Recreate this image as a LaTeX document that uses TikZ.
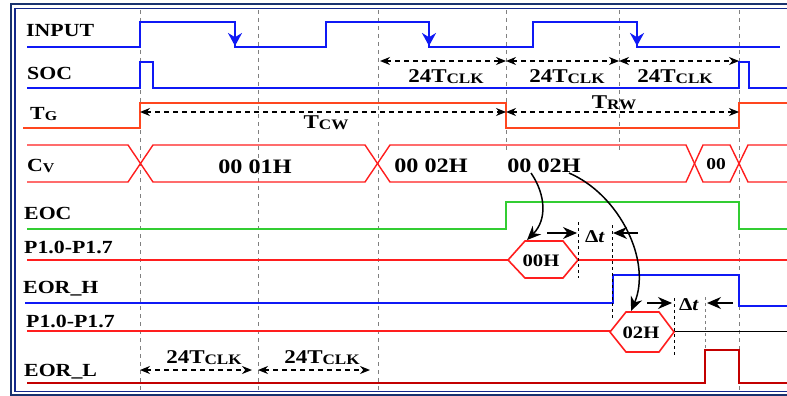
\documentclass[tikz,border=0pt]{standalone}
\usepackage{fontspec}
\setmainfont[FakeStretch=1.18]{Liberation Serif}
\usetikzlibrary{arrows.meta}
\definecolor{sigblue}{RGB}{15,25,245}
\definecolor{sigorange}{RGB}{255,70,30}
\definecolor{sigred}{RGB}{255,30,30}
\definecolor{siggreen}{RGB}{50,205,50}
\definecolor{sigdark}{RGB}{195,0,0}
\definecolor{framenavy}{RGB}{25,50,110}
\newcommand\lsub[2]{\raisebox{-0.2ex}{\fontsize{#1}{#1}\selectfont #2}}
\begin{document}
\begin{tikzpicture}[x=1pt,y=-1pt,
  lbl/.style={anchor=base west,inner sep=0pt,font=\bfseries\fontsize{18.5}{20}\selectfont},
  val/.style={anchor=base,inner sep=0pt,font=\bfseries\fontsize{20.5}{22}\selectfont},
  dimtxt/.style={anchor=base,inner sep=0pt,font=\bfseries\fontsize{19.5}{20}\selectfont},
  grid/.style={gray,line width=0.9pt,dash pattern=on 4pt off 4pt},
  dim/.style={black,line width=1.3pt,dash pattern=on 5pt off 4pt,{Stealth[length=10pt,width=8pt]}-{Stealth[length=10pt,width=8pt]}},
  bigarr/.style={black,line width=1.5pt,-{Stealth[length=14pt,width=12pt]}},
  hex/.style={sigred,line width=1.6pt,fill=white},
  dtline/.style={black,line width=1pt,dash pattern=on 3pt off 3pt},
]
\useasboundingbox (0,0) rectangle (787,396);
\fill[white] (0,0) rectangle (787,396);
% frame
\draw[framenavy,line width=2pt] (11,4.5) rectangle (830,395);
\draw[framenavy!80!blue,line width=1.4pt] (15,8.5) rectangle (830,391.5);

% grid lines
\foreach \gx in {140,258,378,739} \draw[grid] (\gx,10) -- (\gx,390);
\foreach \gx in {506,619} \draw[grid] (\gx,10) -- (\gx,150);

% labels
\node[lbl] (lin) at (26,37) {INPUT};
\node[lbl] (lsoc) at (27,80) {SOC};
\node[lbl] (ltg) at (30,119) {T\lsub{13.5}{G}};
\node[lbl] (lcv) at (27,171) {C\lsub{13.5}{V}};
\node[lbl] (leoc) at (24,219) {EOC};
\node[lbl] (lp1) at (24,253) {P1.0-P1.7};
\node[lbl] (leorh) at (23,293) {EOR\_H};
\node[lbl] (lp2) at (26,327) {P1.0-P1.7};
\node[lbl] (leorl) at (24,376) {EOR\_L};

% INPUT
\draw[sigblue,line width=2pt] (27,47) -- (140,47) -- (140,22) -- (235,22) -- (235,47) -- (326,47) -- (326,22) -- (429,22) -- (429,47) -- (533,47) -- (533,22) -- (637,22) -- (637,47) -- (780,47);
\foreach \fx in {235,429,637} \draw[sigblue,line width=2pt,-{Stealth[length=13pt,width=14pt]}] (\fx,22) -- (\fx,46);

% SOC
\draw[sigblue,line width=2pt] (27,88) -- (140,88) -- (140,62) -- (153,62) -- (153,88) -- (739,88) -- (739,62) -- (749,62) -- (749,88) -- (787,88);

% T_G
\draw[sigorange,line width=2pt] (23,128) -- (140,128) -- (140,103) -- (506,103) -- (506,128) -- (739,128) -- (739,103) -- (787,103);

% C_V bus
\draw[sigred,line width=1.4pt] (27,145) -- (128,145) -- (153,182) -- (365,182) -- (390,145) -- (686,145) -- (703,182) -- (730,182) -- (748,145) -- (787,145);
\draw[sigred,line width=1.4pt] (27,182) -- (128,182) -- (153,145) -- (365,145) -- (390,182) -- (686,182) -- (703,145) -- (730,145) -- (748,182) -- (787,182);

% EOC
\draw[siggreen,line width=2pt] (27,229) -- (506,229) -- (506,202) -- (739,202) -- (739,229) -- (787,229);

% P1 first
\draw[sigred,line width=1.3pt] (27,260) -- (787,260);

% EOR_H
\draw[sigblue,line width=2.4pt] (25,303) -- (613,303) -- (613,275) -- (739,275) -- (739,306) -- (787,306);

% P1 second
\draw[sigred,line width=1.3pt] (27,331) -- (640,331);
\draw[black,line width=1pt] (650,331) -- (787,331);

% EOR_L
\draw[sigdark,line width=2.4pt] (27,383) -- (705,383) -- (705,350) -- (739,350) -- (739,383) -- (787,383);

% bus values
\node[val] (v1) at (255,173) {00 01H};
\node[val] (v2) at (431,172) {00 02H};
\node[val] (v3) at (544,172) {00 02H};
\node[val,font=\bfseries\fontsize{16.5}{18}\selectfont] (v4) at (716,169) {00};

% dimension arrows
\draw[dim] (380,61) -- (506,61);
\draw[dim] (506,61) -- (619,61);
\draw[dim] (619,61) -- (739,61);
\node[dimtxt] (d1) at (446,82) {24T\lsub{14.5}{CLK}};
\node[dimtxt] (d2) at (567,82) {24T\lsub{14.5}{CLK}};
\node[dimtxt] (d3) at (675,82) {24T\lsub{14.5}{CLK}};
\draw[dim] (140,112) -- (506,112);
\draw[dim] (506,112) -- (739,112);
\node[dimtxt] (tcw) at (326,128) {T\lsub{14.5}{CW}};
\node[dimtxt] (trw) at (614,108) {T\lsub{14.5}{RW}};
\draw[dim] (140,370) -- (252,370);
\draw[dim] (258,370) -- (370,370);
\node[dimtxt] (d4) at (204,363) {24T\lsub{14.5}{CLK}};
\node[dimtxt] (d5) at (322,363) {24T\lsub{14.5}{CLK}};

% hexagons
\draw[hex] (508,260) -- (525,241) -- (563,241) -- (578,260) -- (563,278) -- (525,278) -- cycle;
\node[anchor=base,inner sep=0pt,font=\bfseries\fontsize{17.5}{18}\selectfont] (h1) at (541,266) {00H};
\draw[hex] (610,332) -- (626,312) -- (659,312) -- (674,332) -- (659,352) -- (626,352) -- cycle;
\node[anchor=base,inner sep=0pt,font=\bfseries\fontsize{17.5}{18}\selectfont] (h2) at (641,338) {02H};

% delta t marks
\draw[dtline] (578,222) -- (578,278);
\draw[dtline] (612,225) -- (612,318);
\draw[bigarr] (547,233) -- (577,233);
\draw[bigarr] (638,233) -- (613,233);
\node[anchor=base,inner sep=0pt,font=\bfseries\fontsize{18}{18}\selectfont] (dt1) at (595,242) {Δ\textit{t}};
\draw[dtline] (674,298) -- (674,355);
\draw[grid,dash pattern=on 3pt off 3pt] (705,297) -- (705,350);
\draw[bigarr] (647,303) -- (672,303);
\draw[bigarr] (733,303) -- (707,303);
\node[anchor=base,inner sep=0pt,font=\bfseries\fontsize{18}{18}\selectfont] (dt2) at (689,310) {Δ\textit{t}};

% curved arrows
\coordinate (c1s) at (531,173);
\coordinate (c1e) at (527,240);
\coordinate (c2s) at (569,173);
\coordinate (c2e) at (631,311);
\draw[bigarr] (c1s) .. controls (546,195) and (547,220) .. (c1e);
\draw[bigarr] (c2s) .. controls (620,195) and (652,262) .. (c2e);
\end{tikzpicture}
\end{document}
